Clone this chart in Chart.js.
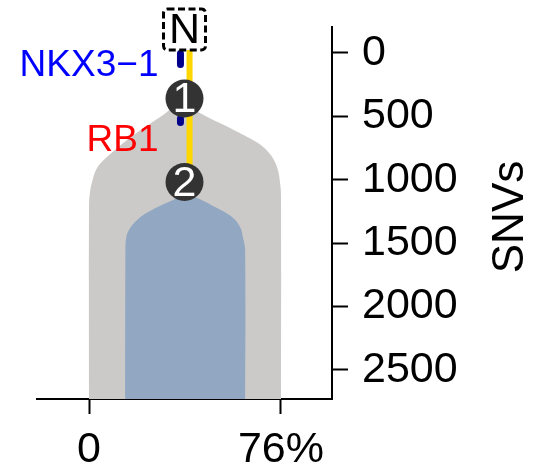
<!DOCTYPE html>
<html>
<head>
<meta charset="utf-8">
<script src="https://cdn.jsdelivr.net/npm/chart.js@4.4.1/dist/chart.umd.min.js"></script>
<style>
  html, body { margin: 0; padding: 0; background: #fff; }
  canvas { display: block; }
</style>
</head>
<body>
<canvas id="tree" width="553" height="470"></canvas>
<script>
// Axis ticks
const X_TICKS = [0, 76];
const X_TICK_LABELS = ["0", "76%"];
const Y_TICKS = [0, 500, 1000, 1500, 2000, 2500];

// Clone outlines (cancer cell fraction %, SNVs)
const CLONE1_X = [0, 0, 0.4, 1.2, 3.2, 7.1, 16.2, 29.3, 37.2, 43.9, 55.8, 64.9, 68.5, 71.3, 73.2, 74.8, 75.6, 76, 76];
const CLONE1_SNVS = [2900, 1199, 1096, 1017, 907, 820, 670, 489, 386, 473, 591, 686, 733, 789, 844, 923, 1017, 1120, 2900];
const CLONE2_X = [14.3, 14.4, 14.6, 15.4, 18.2, 23.4, 33.3, 38.4, 42.8, 49.9, 56.6, 59.8, 61, 61.8, 61.8];
const CLONE2_SNVS = [2900, 1553, 1475, 1412, 1333, 1254, 1159, 1120, 1143, 1214, 1293, 1372, 1459, 1553, 2900];

// Tree nodes
const NODE_IDS = ["1", "2"];
const NODE_X = [37.8, 37.8];
const NODE_SNVS = [359, 1017];
const ROOT_LABEL = "N";
const ROOT_SNVS = -185;

// Trunk (yellow) and driver genes (dark blue ticks)
const TRUNK_X = 39.8;
const TRUNK_SNVS = [-24, 1017];
const GENE_NAMES = ["NKX3\u22121", "RB1"];
const GENE_X = 36.2;
const GENE_SNV_START = [4, 517];
const GENE_SNV_END = [90, 548];
const GENE_LABEL_SNVS = [103, 694];

const FONT = '"Liberation Sans", Arial, Helvetica, sans-serif';
const GENE_COLORS = ["#0000ff", "#ff0000"];

function pts(xs, ys) {
  return xs.map((x, i) => ({ x: x, y: ys[i] }));
}

// keep the chart area where the reference has it
function noPad(s) {
  s.paddingTop = 0;
  s.paddingBottom = 0;
  s.paddingLeft = 0;
  s.paddingRight = 0;
}

const overlay = {
  id: "overlay",
  afterDatasetsDraw(chart) {
    const { ctx, chartArea } = chart;
    const x = chart.scales.x;
    const y = chart.scales.y;
    ctx.save();

    // gene labels
    ctx.textAlign = "right";
    ctx.textBaseline = "middle";
    ctx.font = "37px " + FONT;
    GENE_NAMES.forEach((g, i) => {
      ctx.fillStyle = GENE_COLORS[i];
      ctx.fillText(g, x.getPixelForValue(GENE_X) - 22, y.getPixelForValue(GENE_LABEL_SNVS[i]));
    });

    // node numbers
    ctx.textAlign = "center";
    ctx.fillStyle = "#ffffff";
    ctx.font = "43px " + FONT;
    NODE_IDS.forEach((id, i) => {
      ctx.fillText(id, x.getPixelForValue(NODE_X[i]), y.getPixelForValue(NODE_SNVS[i]) + 2);
    });

    // root box
    const rx = x.getPixelForValue(NODE_X[0]);
    const ry = y.getPixelForValue(ROOT_SNVS);
    ctx.fillStyle = "#000";
    ctx.fillText(ROOT_LABEL, rx, ry + 2);
    ctx.strokeStyle = "#000";
    ctx.lineWidth = 3;
    ctx.setLineDash([7, 3.5]);
    ctx.beginPath();
    if (ctx.roundRect) ctx.roundRect(rx - 21, ry - 20.5, 42, 41, 4);
    else ctx.rect(rx - 21, ry - 20.5, 42, 41);
    ctx.stroke();
    ctx.setLineDash([]);

    // axis title
    ctx.translate(523, (chartArea.top + chartArea.bottom) / 2 + 4);
    ctx.rotate(-Math.PI / 2);
    ctx.textBaseline = "alphabetic";
    ctx.font = "44px " + FONT;
    ctx.fillText("SNVs", 0, 0);
    ctx.restore();
  }
};

const datasets = [
  {
    label: "nodes",
    data: pts(NODE_X, NODE_SNVS),
    showLine: false,
    pointRadius: 19,
    pointBackgroundColor: "#333333",
    pointBorderWidth: 0
  },
  {
    label: GENE_NAMES[0],
    data: pts([GENE_X, GENE_X], [GENE_SNV_START[0], GENE_SNV_END[0]]),
    borderColor: "#00008b",
    borderWidth: 7,
    borderCapStyle: "round",
    pointRadius: 0
  },
  {
    label: GENE_NAMES[1],
    data: pts([GENE_X, GENE_X], [GENE_SNV_START[1], GENE_SNV_END[1]]),
    borderColor: "#00008b",
    borderWidth: 7,
    borderCapStyle: "round",
    pointRadius: 0
  },
  {
    label: "trunk",
    data: pts([TRUNK_X, TRUNK_X], TRUNK_SNVS),
    borderColor: "#ffd700",
    borderWidth: 6,
    pointRadius: 0
  },
  {
    label: "clone 2",
    data: pts(CLONE2_X, CLONE2_SNVS),
    borderWidth: 0,
    borderColor: "rgba(0,0,0,0)",
    backgroundColor: "#91a7c2",
    fill: "shape",
    tension: 0.4,
    pointRadius: 0
  },
  {
    label: "clone 1",
    data: pts(CLONE1_X, CLONE1_SNVS),
    borderWidth: 0,
    borderColor: "rgba(0,0,0,0)",
    backgroundColor: "#cbcac8",
    fill: "shape",
    tension: 0.4,
    pointRadius: 0
  }
];

new Chart(document.getElementById("tree"), {
  type: "line",
  data: { datasets: datasets },
  plugins: [overlay],
  options: {
    responsive: false,
    animation: false,
    devicePixelRatio: 1,
    layout: { padding: { left: 37, top: 27, right: 0, bottom: 0 } },
    plugins: {
      legend: { display: false },
      tooltip: { enabled: false }
    },
    scales: {
      x: {
        type: "linear",
        position: "bottom",
        min: -20.6,
        max: 96.2,
        afterBuildTicks: (s) => { s.ticks = X_TICKS.map((v) => ({ value: v })); },
        afterFit: (s) => { s.height = 71; noPad(s); },
        ticks: {
          callback: (v, i) => X_TICK_LABELS[i],
          font: { family: FONT, size: 43 },
          color: "#000",
          padding: 10,
          maxRotation: 0,
          autoSkip: false
        },
        grid: { drawOnChartArea: false, drawTicks: true, tickLength: 15, tickWidth: 2, tickColor: "#000" },
        border: { display: true, color: "#000", width: 2 }
      },
      y: {
        type: "linear",
        position: "right",
        reverse: true,
        min: -205,
        max: 2729,
        afterBuildTicks: (s) => { s.ticks = Y_TICKS.map((v) => ({ value: v })); },
        afterFit: (s) => { s.width = 221; noPad(s); },
        ticks: {
          callback: (v) => String(v),
          font: { family: FONT, size: 43 },
          color: "#000",
          padding: 14,
          autoSkip: false
        },
        grid: { drawOnChartArea: false, drawTicks: true, tickLength: 16, tickWidth: 2, tickColor: "#000" },
        border: { display: true, color: "#000", width: 2 }
      }
    }
  }
});
</script>
</body>
</html>
